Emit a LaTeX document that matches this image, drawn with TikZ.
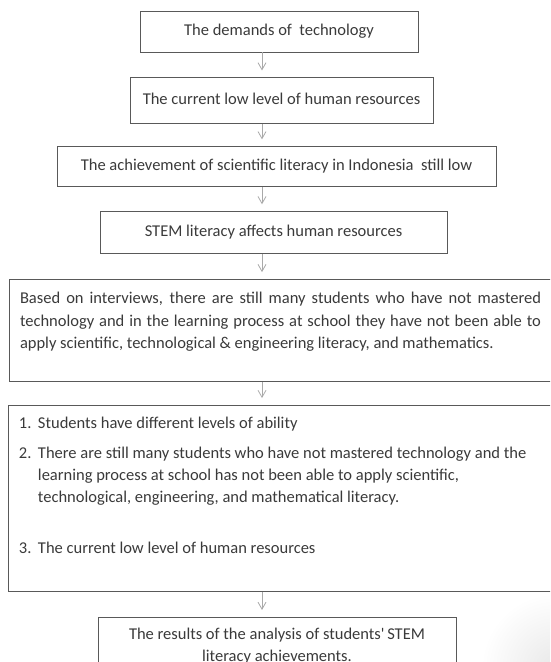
\documentclass[tikz,border=0pt]{standalone}
\usepackage{fontspec}
\setmainfont{Carlito}
\usetikzlibrary{arrows.meta, positioning}
\definecolor{flowline}{HTML}{595959}
\definecolor{flowtext}{HTML}{3A3A3A}
\definecolor{flowarrow}{HTML}{A9A9A9}
\newcommand{\itemno}[1]{\makebox[19pt][l]{#1}}

\begin{document}
\begin{tikzpicture}[
  x=1pt, y=-1pt,
  every node/.style={font=\fontsize{16.5}{22}\selectfont, text=flowtext},
  block/.style={draw=flowline, line width=0.9pt, inner sep=0pt,
                text height=11.5pt, text depth=3.5pt, align=center},
  panel/.style={draw=flowline, line width=0.9pt, inner ysep=0pt, inner xsep=11pt},
  arrow/.style={-{Straight Barb[length=7pt, width=8pt]}, line width=0.8pt,
                color=flowarrow, shorten >=7pt}
]
\useasboundingbox (0,0) rectangle (550,662);
\clip (0,0) rectangle (550,662);

% faint page shadow in the lower right corner
\shade[inner color=black!9, outer color=white] (556,668) circle (75);

% the arrows all run down this column
\coordinate (ax) at (262,0);

% Row 1
\node[block, minimum width=278pt, minimum height=41pt] (demands) at (279,31.5)
  {The demands of~ technology};

% Row 2
\node[block, minimum width=303pt, minimum height=46pt,
      below=25pt of demands, xshift=2.5pt] (lowhr)
  {The current low level of human resources};

% Row 3
\node[block, minimum width=439pt, minimum height=40pt,
      below=22pt of lowhr, xshift=-5pt] (scilit)
  {The achievement of scientific literacy in Indonesia~ still low};

% Row 4
\node[block, minimum width=347pt, minimum height=42pt,
      below=24pt of scilit, xshift=-3pt] (stem)
  {STEM literacy affects human resources};

% Row 5 -- interviews
\node[panel, inner xsep=11pt, below=25pt of stem, xshift=7pt] (interview)
  {\parbox[c][102pt][t]{521pt}{\baselineskip=22.5pt
   \rule{0pt}{24pt}Based on interviews, there are still many students who have not mastered
   \linebreak technology and in the learning process at school they have not been able to
   \linebreak apply scientific, technological \& engineering literacy, and mathematics.}};

% Row 6 -- problems found
\node[panel, below=23pt of interview, xshift=-0.5pt] (problems)
  {\parbox[c][186pt][t]{522pt}{\raggedright
   \rule{0pt}{23pt}\itemno{1.}Students have different levels of ability\par\vspace{8pt}
   \itemno{2.}There are still many students who have not mastered technology and the\\
   \hspace*{19pt}learning process at school has not been able to apply scientific,\\
   \hspace*{19pt}technological, engineering, and mathematical literacy.\par\vspace{29pt}
   \itemno{3.}The current low level of human resources}};

% Row 7 -- results
\node[panel, inner xsep=0pt, below=25pt of problems, xshift=-3pt] (results)
  {\parbox[c][60pt][t]{358pt}{\centering
   \rule{0pt}{22pt}The results of the analysis of students\textquotesingle\,STEM\\
   literacy achievements.}};

% Connections
\draw[arrow] (demands.south -| ax) -- (lowhr.north -| ax);
\draw[arrow] (lowhr.south -| ax) -- (scilit.north -| ax);
\draw[arrow] (scilit.south -| ax) -- (stem.north -| ax);
\draw[arrow] (stem.south -| ax) -- (interview.north -| ax);
\draw[arrow] (interview.south -| ax) -- (problems.north -| ax);
\draw[arrow] (problems.south -| ax) -- (results.north -| ax);

\end{tikzpicture}
\end{document}
